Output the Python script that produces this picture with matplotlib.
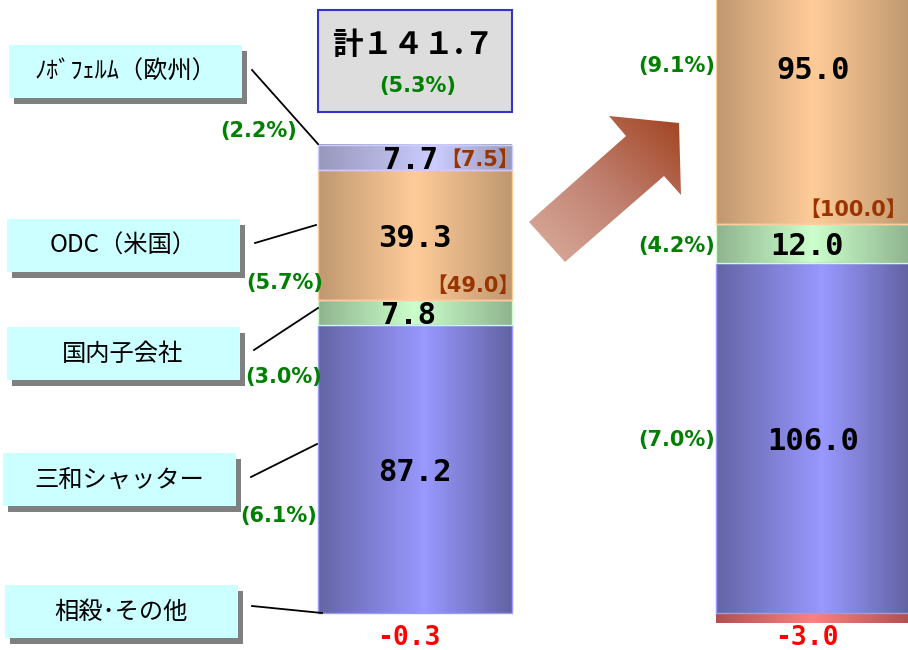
import numpy as np
import matplotlib.pyplot as plt
from matplotlib.patches import Rectangle, Polygon
from matplotlib.colors import LinearSegmentedColormap

plt.rcParams['font.family'] = ['Noto Sans CJK JP', 'DejaVu Sans']

# data: stacked segments bottom -> top
seg_names = ['三和シャッター', '国内子会社', 'ODC（米国）', 'ﾉﾎﾞﾌｪﾙﾑ（欧州）']
left_vals = [87.2, 7.8, 39.3, 7.7]
right_vals = [106.0, 12.0, 95.0, 0.0]
left_adj = -0.3
right_adj = -3.0
left_total = '計１４１.７'
left_total_pct = '(5.3%)'
left_pcts = ['(6.1%)', '(3.0%)', '(5.7%)', '(2.2%)']
right_pcts = ['(7.0%)', '(4.2%)', '(9.1%)', '']
left_plan = ['', '', '【49.0】', '【7.5】']
right_plan = ['', '', '【100.0】', '']
adj_label = '相殺･その他'

# gradient stops per segment (edge-light-edge)
grads = [
    [(0, '#6464a6'), (0.55, '#9999ff'), (1, '#6262a2')],
    [(0, '#8fb48f'), (0.5, '#ccffcc'), (1, '#8fb48f')],
    [(0, '#bf9870'), (0.5, '#ffcc99'), (1, '#bf9870')],
    [(0, '#9898bc'), (0.6, '#ccccff'), (1, '#9a9ab8')],
]
edge_cols = ['#9999ff', '#ccffcc', '#ffcc99', '#ccccff']
red_grad = [(0, '#b05050'), (0.5, '#ff8080'), (1, '#b05050')]
# small horizontal nudges of value labels (px), per segment
label_dx = [0, -6, 0, -4]

fig = plt.figure(figsize=(9.08, 6.5), dpi=100)
ax = fig.add_axes([0, 0, 1, 1])
ax.axis('off')

x_pos = [415, 813]
bar_w = 194


def grad_fill(patch, stops, z):
    x0, y0 = patch.get_xy()
    w, h = patch.get_width(), patch.get_height()
    cmap = LinearSegmentedColormap.from_list('g', stops)
    img = np.linspace(0, 1, 256)[None, :]
    ax.imshow(img, cmap=cmap, extent=(x0, x0 + w, min(y0, y0 + h), max(y0, y0 + h)),
              aspect='auto', interpolation='bilinear', zorder=z)


mono = dict(family=['DejaVu Sans Mono', 'Noto Sans CJK JP'], fontweight='bold')

for bi, vals in enumerate([left_vals, right_vals]):
    bottom = 0.0
    for si, v in enumerate(vals):
        if v == 0:
            continue
        p = ax.bar(x_pos[bi], v, bar_w, bottom=bottom, facecolor='none',
                   edgecolor=edge_cols[si], linewidth=1, zorder=3)[0]
        grad_fill(p, grads[si], 2)
        yc = bottom + v / 2
        if yc + 8 > 185:
            yc = 165.5
        ax.text(x_pos[bi] + label_dx[si], yc - 1, f'{v:.1f}', ha='center', va='center',
                fontsize=22, color='black', zorder=5, **mono)
        bottom += v

    adj = [left_adj, right_adj][bi]
    p = ax.bar(x_pos[bi], adj, bar_w, bottom=0, facecolor='none', edgecolor='none', zorder=3)[0]
    grad_fill(p, red_grad, 2)
    ax.text(x_pos[bi] - 6, -7.6, f'{adj:.1f}', ha='center', va='center',
            fontsize=19, color='#ff0000', zorder=5, **mono)

ax.set_xlim(0, 908)
ax.set_ylim(-11.2, 185.8)

# overlay in pixel coordinates for callouts
ov = fig.add_axes([0, 0, 1, 1], zorder=5)
ov.set_xlim(0, 908)
ov.set_ylim(650, 0)
ov.axis('off')
ov.patch.set_alpha(0)

# label boxes with shadow
box_pos = [(3, 453), (7, 327), (7, 219), (9, 45), (5, 585)]
names = seg_names + [adj_label]
line_ends = [((251, 477), (317, 444)), ((254, 350), (318, 308)), ((255, 243), (316, 225)),
             ((252, 70), (318, 144)), ((252, 606), (322, 613))]
for (bx, by), name, (p0, p1) in zip(box_pos, names, line_ends):
    ov.add_patch(Rectangle((bx + 5, by + 6), 233, 53, facecolor='#808080', edgecolor='none'))
    ov.add_patch(Rectangle((bx, by), 233, 53, facecolor='#ccffff', edgecolor='none'))
    ov.text(bx + 116, by + 27, name, ha='center', va='center', fontsize=17.5, color='black')
    ov.plot([p0[0], p1[0]], [p0[1], p1[1]], color='black', lw=1.3)

# total box
ov.add_patch(Rectangle((318, 10), 194, 102, facecolor='#dddddd', edgecolor='#3333cc', lw=1.5))
ov.text(413, 45, left_total, ha='center', va='center', fontsize=22, fontweight='bold')

green = dict(fontsize=15, fontweight='bold', color='#008000', va='center',
             family=['DejaVu Sans', 'Noto Sans CJK JP'])
ov.text(418, 86, left_total_pct, ha='center', **green)

# growth percentages
left_pct_pos = [(279, 516), (284, 377), (285, 283), (259, 131)]
for (px, py), t in zip(left_pct_pos, left_pcts):
    ov.text(px, py, t, ha='center', **green)
right_pct_y = [440, 246, 66]
for py, t in zip(right_pct_y, right_pcts):
    ov.text(715, py, t, ha='right', **green)

# plan values
brown = dict(fontsize=15, fontweight='bold', color='#993300', va='center', ha='right',
             family=['DejaVu Sans', 'Noto Sans CJK JP'])
ov.text(519, 286, left_plan[2], **brown)
ov.text(519, 160, left_plan[3], **brown)
ov.text(907, 210, right_plan[2], **brown)

# arrow
arrow_pts = [(529, 222), (626, 136), (609, 116), (679, 123), (681, 195), (664, 176), (565, 262)]
arrow = Polygon(arrow_pts, closed=True, facecolor='none', edgecolor='none')
ov.add_patch(arrow)
acmap = LinearSegmentedColormap.from_list('a', ['#dcb0a0', '#c08070', '#a0401c'])
gx, gy = np.meshgrid(np.linspace(0, 1, 200), np.linspace(0, 1, 200))
gimg = (gx + (1 - gy)) / 2
im = ov.imshow(gimg, cmap=acmap, extent=(525, 685, 265, 112), aspect='auto',
               interpolation='bilinear', zorder=2)
im.set_clip_path(arrow)
ov.set_xlim(0, 908)
ov.set_ylim(650, 0)

fig.savefig('out.png', dpi=100)
